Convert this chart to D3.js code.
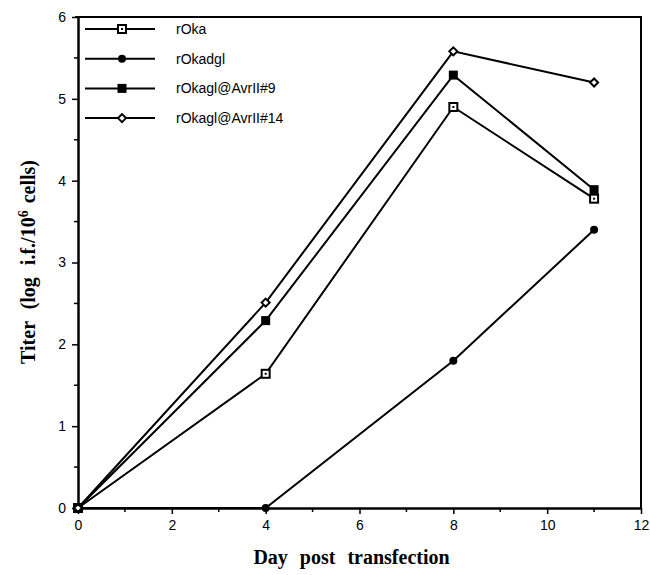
<!DOCTYPE html>
<html>
<head>
<meta charset="utf-8">
<script src="https://cdn.jsdelivr.net/npm/d3@7"></script>
<style>
  body { margin: 0; background: #fff; }
  .tick text { font-family: "Liberation Sans", Arial, sans-serif; font-size: 14px; fill: #000; }
  .axis--label { font-family: "Liberation Serif", "Times New Roman", serif; font-weight: bold; font-size: 20px; word-spacing: 7px; }
  .legend--label { font-family: "Liberation Sans", Arial, sans-serif; font-size: 14px; }
</style>
</head>
<body>
<div id="chart"></div>
<script>
// data
const days = [0, 4, 8, 11];
const seriesNames = ["rOka", "rOkadgl", "rOkagl@AvrII#9", "rOkagl@AvrII#14"];
const rOka = [0, 1.64, 4.9, 3.78];
const rOkadgl = [0, 0, 1.8, 3.4];
const rOkaglAvr9 = [0, 2.29, 5.29, 3.89];
const rOkaglAvr14 = [0, 2.51, 5.58, 5.2];
const markerTypes = ["openSquare", "circle", "filledSquare", "diamond"];
const xTicks = [0, 2, 4, 6, 8, 10, 12];
const yTicks = [0, 1, 2, 3, 4, 5, 6];

const series = [rOka, rOkadgl, rOkaglAvr9, rOkaglAvr14].map(function(vals, i) {
    return { name: seriesNames[i], marker: markerTypes[i], values: vals.map(function(v, j) { return { x: days[j], y: v }; }) };
});

const width = 650, height = 575;
const margin = {top: 17, left: 78, right: 9, bottom: 67};

const svg = d3.select("#chart")
    .append("svg")
    .attr("width", width)
    .attr("height", height);

const xScale = d3.scaleLinear()
    .domain([0, 12])
    .range([margin.left, width - margin.right]);

const yScale = d3.scaleLinear()
    .domain([0, 6])
    .range([height - margin.bottom, margin.top]);

/*
FRAME (top + right)
*/
svg.append("path")
    .attr("d", `M${margin.left - 3},${margin.top}H${width - margin.right}V${height - margin.bottom}`)
    .attr("fill", "none")
    .attr("stroke", "#000")
    .attr("stroke-width", 2);

/*
AXES
*/
const xAxis = svg.append("g")
    .attr("transform", `translate(0,${height - margin.bottom})`)
    .call(d3.axisBottom(xScale).tickValues(xTicks).tickFormat(d3.format("d")).tickSize(6).tickPadding(6).tickSizeOuter(0));

// minor ticks x
xAxis.selectAll(".minor")
    .data(d3.range(1, 12, 2))
    .enter()
    .append("line")
        .attr("x1", function(d) { return xScale(d); })
        .attr("x2", function(d) { return xScale(d); })
        .attr("y1", 0)
        .attr("y2", 4)
        .attr("stroke", "#000")
        .attr("stroke-width", 1.5);

const yAxis = svg.append("g")
    .attr("transform", `translate(${margin.left},0)`)
    .call(d3.axisLeft(yScale).tickValues(yTicks).tickFormat(d3.format("d")).tickSize(6).tickPadding(6).tickSizeOuter(0));

yAxis.selectAll(".minor")
    .data(d3.range(0.5, 6, 1))
    .enter()
    .append("line")
        .attr("y1", function(d) { return yScale(d); })
        .attr("y2", function(d) { return yScale(d); })
        .attr("x1", 0)
        .attr("x2", -4)
        .attr("stroke", "#000")
        .attr("stroke-width", 1.5);

svg.selectAll(".domain").attr("stroke-width", 2.5);
svg.selectAll(".tick line").attr("stroke-width", 1.5);

/*
LINES + MARKERS
*/
const line = d3.line()
    .x(function(d) { return xScale(d.x); })
    .y(function(d) { return yScale(d.y); });

svg.selectAll(".series")
    .data(series)
    .enter()
    .append("path")
        .attr("d", function(d) { return line(d.values); })
        .attr("fill", "none")
        .attr("stroke", "#000")
        .attr("stroke-width", 2);

function drawMarker(g, type, cx, cy) {
    if (type === "openSquare") {
        g.append("rect").attr("x", cx - 4).attr("y", cy - 4).attr("width", 8).attr("height", 8)
            .attr("fill", "#fff").attr("stroke", "#000").attr("stroke-width", 2);
        g.append("rect").attr("x", cx - 1).attr("y", cy - 1).attr("width", 2).attr("height", 2).attr("fill", "#000");
    } else if (type === "filledSquare") {
        g.append("rect").attr("x", cx - 4.5).attr("y", cy - 4.5).attr("width", 9).attr("height", 9).attr("fill", "#000");
    } else if (type === "circle") {
        g.append("circle").attr("cx", cx).attr("cy", cy).attr("r", 4).attr("fill", "#000");
    } else {
        g.append("path").attr("d", `M${cx},${cy - 4}L${cx + 4},${cy}L${cx},${cy + 4}L${cx - 4},${cy}Z`)
            .attr("fill", "#fff").attr("stroke", "#000").attr("stroke-width", 2);
    }
}

const markers = svg.append("g");
series.forEach(function(s) {
    s.values.forEach(function(p) {
        drawMarker(markers, s.marker, xScale(p.x), yScale(p.y));
    });
});

/*
LEGEND
*/
const legend = svg.append("g");
series.forEach(function(s, i) {
    const ly = 29 + i * 29.7;
    legend.append("line")
        .attr("x1", 85).attr("x2", 155)
        .attr("y1", ly).attr("y2", ly)
        .attr("stroke", "#000").attr("stroke-width", 2);
    drawMarker(legend, s.marker, 122, ly);
    legend.append("text")
        .attr("class", "legend--label")
        .attr("x", 176)
        .attr("y", ly)
        .attr("dy", "0.35em")
        .text(s.name);
});

/*
AXIS LABELS
*/
svg.append("text")
    .attr("class", "axis--label")
    .attr("x", (margin.left + width - margin.right) / 2 - 8)
    .attr("y", 564)
    .attr("text-anchor", "middle")
    .text("Day post transfection");

const yLabel = svg.append("text")
    .attr("class", "axis--label")
    .attr("transform", "rotate(-90)")
    .attr("x", -262)
    .attr("y", 35)
    .attr("text-anchor", "middle");
yLabel.append("tspan").text("Titer (log i.f./10");
yLabel.append("tspan").attr("font-size", "14px").attr("dy", "-7").text("6");
yLabel.append("tspan").attr("dy", "7").attr("dx", "7").text("cells)");
</script>
</body>
</html>
